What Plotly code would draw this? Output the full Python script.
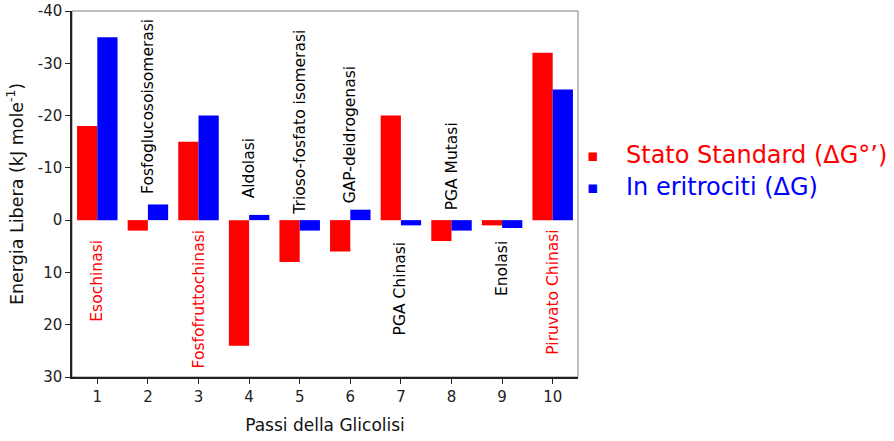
import plotly.graph_objects as go

steps = [1, 2, 3, 4, 5, 6, 7, 8, 9, 10]
standard = [-18, 2, -15, 24, 8, 6, -20, 4, 1, -32]
erythro = [-35, -3, -20, -1, 2, -2, 1, 2, 1.5, -25]
enzymes = ["Esochinasi", "Fosfoglucosoisomerasi", "Fosfofruttochinasi", "Aldolasi",
           "Trioso-fosfato isomerasi", "GAP-deidrogenasi", "PGA Chinasi", "PGA Mutasi",
           "Enolasi", "Piruvato Chinasi"]
enzyme_y = [3.3, -4.7, 1.4, -3.8, -0.7, -2.8, 3.7, -1.4, 3.7, 1.4]
enzyme_anchor = ["top", "bottom", "top", "bottom", "bottom", "bottom", "top", "bottom", "top", "top"]
enzyme_color = ["red", "black", "red", "black", "black", "black", "black", "black", "black", "red"]
y_ticks = [-40, -30, -20, -10, 0, 10, 20, 30]
y_ticklabels = ["-40", "-30", "-20", "-10", "0", "10", "20", "30"]

FONT = "DejaVu Sans, Verdana, sans-serif"

fig = go.Figure()
fig.add_trace(go.Bar(x=steps, y=standard, name="Stato Standard (ΔG°’)",
                     marker=dict(color="#ff0000", line=dict(width=0)), showlegend=False))
fig.add_trace(go.Bar(x=steps, y=erythro, name="In eritrociti (ΔG)",
                     marker=dict(color="#0000ff", line=dict(width=0)), showlegend=False))

for x, t, y, a, c in zip(steps, enzymes, enzyme_y, enzyme_anchor, enzyme_color):
    fig.add_annotation(x=x, y=y, text=t, textangle=-90, showarrow=False,
                       yanchor=a, xanchor="center",
                       font=dict(family=FONT, size=15.5, color=c))

# legend drawn as annotations
fig.add_annotation(xref="paper", yref="paper", x=1.03, y=0.607, text="▪", showarrow=False,
                   xanchor="center", yanchor="middle", font=dict(family=FONT, size=17, color="red"))
fig.add_annotation(xref="paper", yref="paper", x=1.03, y=0.519, text="▪", showarrow=False,
                   xanchor="center", yanchor="middle", font=dict(family=FONT, size=17, color="blue"))
fig.add_annotation(xref="paper", yref="paper", x=1.09, y=0.607, text="Stato Standard (ΔG°’)",
                   showarrow=False, xanchor="left", yanchor="middle",
                   font=dict(family=FONT, size=24, color="red"))
fig.add_annotation(xref="paper", yref="paper", x=1.09, y=0.519, text="In eritrociti (ΔG)",
                   showarrow=False, xanchor="left", yanchor="middle",
                   font=dict(family=FONT, size=24, color="blue"))

fig.add_shape(type="rect", xref="paper", yref="paper", x0=0, y0=0, x1=1, y1=1,
              line=dict(color="#808080", width=1), layer="below")

fig.update_layout(
    width=894, height=441,
    margin=dict(l=72, r=316, t=11, b=64),
    paper_bgcolor="white", plot_bgcolor="white",
    barmode="group", bargap=0.2, bargroupgap=0,
    font=dict(family=FONT, size=15, color="#222"),
    xaxis=dict(range=[0.5, 10.5], tickvals=steps, ticktext=[str(s) for s in steps],
               showgrid=False, zeroline=False, showline=True, linecolor="#222", linewidth=1.5,
               ticks="outside", ticklen=5, tickcolor="#222", automargin=False,
               title=dict(text="Passi della Glicolisi", font=dict(size=17, family=FONT, color="#111"), standoff=14)),
    yaxis=dict(range=[30, -40], tickvals=y_ticks, ticktext=y_ticklabels,
               showgrid=False, zeroline=False, showline=True, linecolor="#222", linewidth=1.5,
               ticks="outside", ticklen=5, tickcolor="#222", automargin=False,
               ticklabeloverflow="allow",
               title=dict(text="Energia Libera (kJ mole<sup>-1</sup>)", font=dict(size=17.5, family=FONT, color="#111"), standoff=10)),
)

# remove the default 8px page margin so the figure sits at the window's corner
fig.write_html("out.html", config={"displayModeBar": False},
               post_script="document.body.style.margin='0px';")
